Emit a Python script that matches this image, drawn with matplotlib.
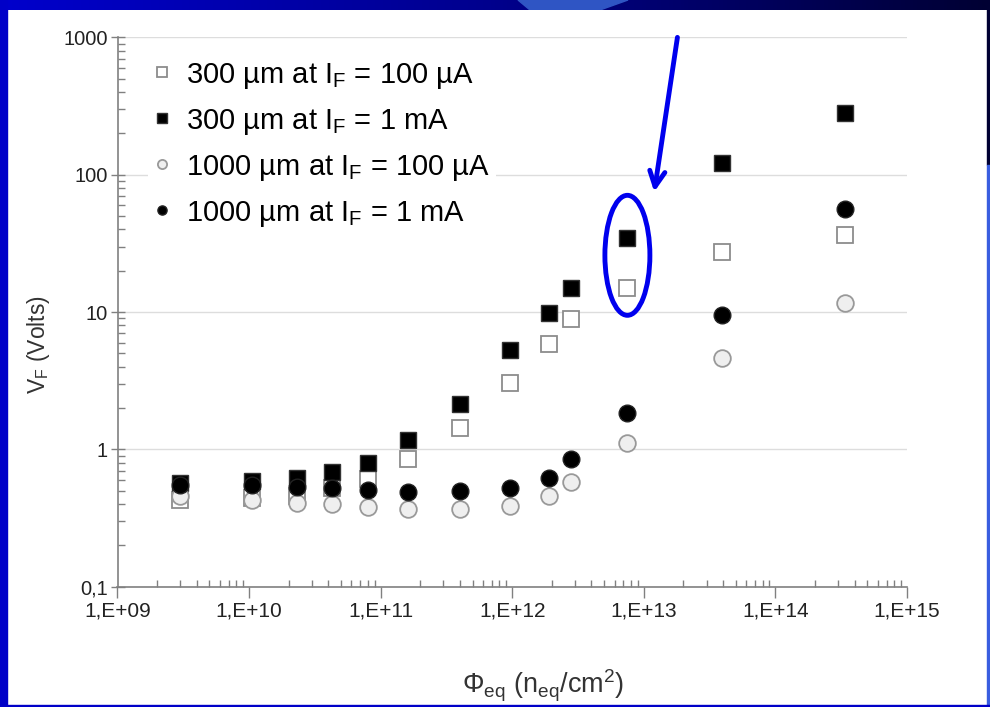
#Log-log scatter of forward voltage vs fluence, recreated in a slide frame
import matplotlib
matplotlib.use("Agg")
import matplotlib.pyplot as plt
import matplotlib.patches as mpatches
import matplotlib.transforms as mtransforms
import numpy as np

plt.rcParams["font.family"] = ["Liberation Sans", "DejaVu Sans"]
plt.rcParams["mathtext.fontset"] = "custom"
plt.rcParams["mathtext.rm"] = "Liberation Sans"
plt.rcParams["mathtext.it"] = "Liberation Sans:italic"

# fluence values (n_eq/cm2)
fluence = [3e9, 1.05e10, 2.3e10, 4.3e10, 8e10, 1.6e11, 4e11, 9.6e11,
           1.9e12, 2.8e12, 7.5e12, 3.9e13, 3.4e14]

# forward voltage (V)
v300_100uA = [0.43, 0.44, 0.46, 0.52, 0.61, 0.855, 1.42, 3.02,
              5.82, 8.94, 14.9, 27.4, 36.2]
v300_1mA = [0.57, 0.59, 0.62, 0.68, 0.80, 1.18, 2.14, 5.29,
            9.9, 15.0, 34.4, 121, 280]
v1000_100uA = [0.46, 0.43, 0.41, 0.40, 0.38, 0.37, 0.37, 0.386,
               0.457, 0.575, 1.12, 4.65, 11.6]
v1000_1mA = [0.55, 0.55, 0.53, 0.52, 0.505, 0.49, 0.50, 0.52,
             0.62, 0.855, 1.83, 9.46, 56.3]

labels = ["300 µm at I$_\\mathregular{F}$ = 100 µA",
          "300 µm at I$_\\mathregular{F}$ = 1 mA",
          "1000 µm at I$_\\mathregular{F}$ = 100 µA",
          "1000 µm at I$_\\mathregular{F}$ = 1 mA"]

W, H = 990, 707
fig = plt.figure(figsize=(W / 100, H / 100), dpi=100, facecolor="white")

#Slide frame
top_ax = fig.add_axes([0, 1 - 10 / H, 1, 10 / H])
grad = np.linspace(0, 1, 256)
top_cols = np.array([[0.0, 0.0, 0.80], [0.0, 0.0, 0.55], [0.0, 0.0, 0.20]])
img = np.zeros((1, 256, 3))
for c in range(3):
    img[0, :, c] = np.interp(grad, [0, 0.5, 1], top_cols[:, c])
top_ax.imshow(img, aspect="auto", extent=[0, 1, 0, 1])
top_ax.add_patch(mpatches.Polygon([[518 / W, 1], [628 / W, 1], [600 / W, 0], [530 / W, 0]],
                                  closed=True, color="#2f55c4"))
top_ax.set_xlim(0, 1)
top_ax.set_ylim(0, 1)
top_ax.axis("off")
fig.patches.append(mpatches.Rectangle((0, 0), 7 / W, 1, transform=fig.transFigure,
                                      color="#0000c8", zorder=5))
fig.patches.append(mpatches.Rectangle((987 / W, 1 - 165 / H), 3 / W, 165 / H,
                                      transform=fig.transFigure, color="#000033", zorder=5))
fig.patches.append(mpatches.Rectangle((987 / W, 0), 3 / W, 1 - 165 / H,
                                      transform=fig.transFigure, color="#3a5ee0", zorder=5))
fig.patches.append(mpatches.Rectangle((0, 0), 1, 2 / H, transform=fig.transFigure,
                                      color="#0000c8", zorder=5))

#Chart
ax = fig.add_axes([117.5 / W, 120.3 / H, 789.5 / W, 549.3 / H])
ax.set_xscale("log")
ax.set_yscale("log")
ax.set_xlim(1e9, 1e15)
ax.set_ylim(0.1, 1000)

ms = 12
ax.plot(fluence, v300_100uA, ls="none", marker="s", ms=ms, mfc="white",
        mec="#8c8c8c", mew=1.3, label=labels[0], zorder=3)
ax.plot(fluence, v300_1mA, ls="none", marker="s", ms=ms, mfc="black",
        mec="#333333", mew=1.0, label=labels[1], zorder=4)
ax.plot(fluence, v1000_100uA, ls="none", marker="o", ms=ms, mfc="#efefef",
        mec="#999999", mew=1.3, label=labels[2], zorder=5)
ax.plot(fluence, v1000_1mA, ls="none", marker="o", ms=ms, mfc="black",
        mec="#222222", mew=1.0, label=labels[3], zorder=6)

ax.set_yticks([0.1, 1, 10, 100, 1000])
ax.set_yticklabels(["0,1", "1", "10", "100", "1000"])
ax.set_xticks([1e9, 1e10, 1e11, 1e12, 1e13, 1e14, 1e15])
ax.set_xticklabels(["1,E+09", "1,E+10", "1,E+11", "1,E+12", "1,E+13", "1,E+14", "1,E+15"])

ax.yaxis.grid(True, which="major", color="#dddddd", lw=1)
ax.set_axisbelow(True)
for s in ["top", "right"]:
    ax.spines[s].set_visible(False)
for s in ["left", "bottom"]:
    ax.spines[s].set_color("#808080")
    ax.spines[s].set_linewidth(1.2)

ax.tick_params(axis="y", which="major", direction="inout", length=10, width=1,
               color="#808080", labelsize=14.5, pad=2, labelcolor="#222222")
ax.tick_params(axis="y", which="minor", direction="in", length=5, width=1, color="#808080")
ax.tick_params(axis="x", which="major", direction="out", length=8, width=1,
               color="#808080", labelsize=15, pad=3, labelcolor="#222222")
ax.tick_params(axis="x", which="minor", direction="in", length=5, width=1, color="#808080")
ax.yaxis.set_minor_formatter(matplotlib.ticker.NullFormatter())
ax.xaxis.set_minor_formatter(matplotlib.ticker.NullFormatter())

ax.set_ylabel("V$_\\mathregular{F}$ (Volts)", fontsize=16.5, color="#333333")
ax.yaxis.set_label_coords((38 - 117.5) / 789.5, (586.7 - 345) / 549.3)
ax.yaxis.label.set_va("center")
ax.set_xlabel("Φ$_\\mathregular{eq}$ (n$_\\mathregular{eq}$/cm$^\\mathregular{2}$)",
              fontsize=19.5, color="#333333")
ax.xaxis.set_label_coords((543 - 117.5) / 789.5, -(683 - 586.7) / 549.3 - 0.005)
ax.xaxis.label.set_va("center")

leg = ax.legend(loc="upper left", bbox_to_anchor=(0.02, 0.995), fontsize=21,
                frameon=True, framealpha=1, facecolor="white", edgecolor="none",
                markerscale=0.55, handlelength=0.55, handletextpad=0.55,
                labelspacing=0.55, borderpad=0.2)
leg.set_zorder(7)

#Blue arrow and ellipse highlighting the 7.5e12 point
ax.annotate("", xy=(1.2e13, 75), xytext=(1.8e13, 1000), xycoords="data",
            textcoords="data", annotation_clip=False,
            arrowprops=dict(arrowstyle="->,head_length=1.1,head_width=0.55",
                            color="#0000ee", lw=3.5, shrinkA=0, shrinkB=0))
cx, cy = ax.transData.transform((fluence[10], np.sqrt(v300_1mA[10] * v300_100uA[10])))
ell = mpatches.Ellipse((cx, cy + 8), 45, 120, transform=mtransforms.IdentityTransform(),
                       fill=False, edgecolor="#0000ee", lw=3.5, zorder=8)
ax.add_artist(ell)

fig.savefig("out.png", dpi=100, facecolor="white")
